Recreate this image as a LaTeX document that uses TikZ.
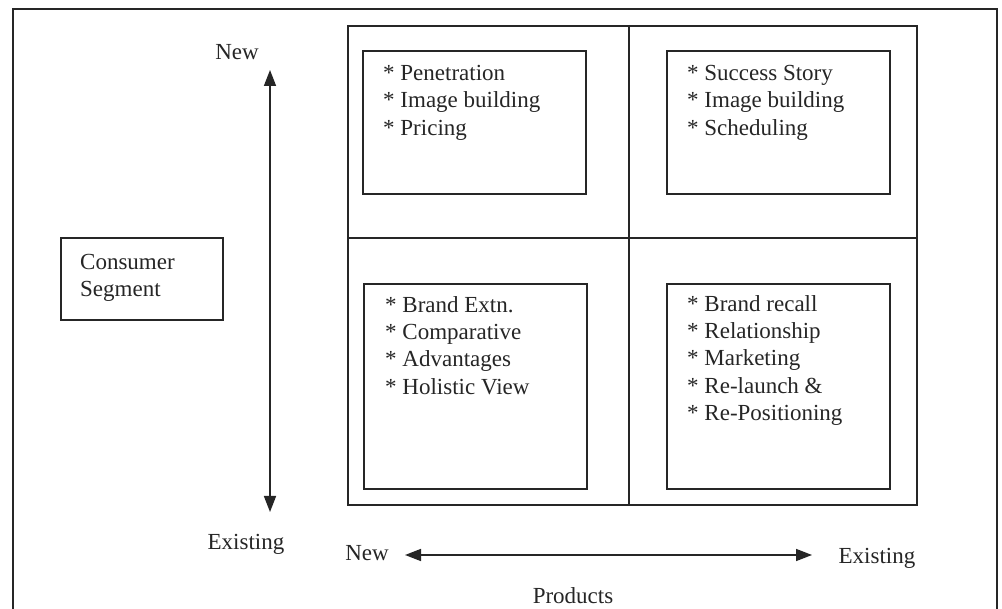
\documentclass[tikz,border=0pt]{standalone}
\usepackage{fontspec}
\setmainfont{Liberation Serif}
\usetikzlibrary{arrows.meta}
\begin{document}
\begin{tikzpicture}[x=1pt,y=-1pt,
  frame/.style={draw=black!85,line width=1.6pt},
  boxnode/.style={draw=black!85,line width=1.6pt,inner sep=0pt,anchor=north west},
  txt/.style={inner sep=0pt,anchor=north west,align=left,text=black!85,font=\fontsize{23}{27.3}\selectfont},
  lbl/.style={inner sep=0pt,text=black!85,font=\fontsize{23}{27.3}\selectfont},
  axis/.style={draw=black!85,line width=1.6pt,{Triangle[length=16pt,width=12pt]}-{Triangle[length=16pt,width=12pt]}}]
\useasboundingbox (0,0) rectangle (1002,609);
\fill[white] (0,0) rectangle (1002,609);
% outer frame (open at bottom)
\draw[frame] (13,612) -- (13,9) -- (997,9) -- (997,612);
% grid
\node[boxnode,minimum width=569pt,minimum height=479pt] (grid) at (347,25) {};
\coordinate (gtop) at (629,25);
\coordinate (gbot) at (629,504);
\coordinate (gleft) at (347,238);
\coordinate (gright) at (916,238);
\draw[frame] (gtop) -- (gbot);
\draw[frame] (gleft) -- (gright);
% inner boxes
\node[boxnode,minimum width=223pt,minimum height=143pt] (tl) at (362,50) {};
\node[boxnode,minimum width=223pt,minimum height=143pt] (tr) at (666,50) {};
\node[boxnode,minimum width=223pt,minimum height=205pt] (bl) at (363,283) {};
\node[boxnode,minimum width=223pt,minimum height=205pt] (br) at (666,283) {};
\node[boxnode,minimum width=162pt,minimum height=82pt] (cs) at (60,237) {};
% texts
\node[txt] (tltxt) at (383,65) {* Penetration\\* Image building\\* Pricing};
\node[txt] (trtxt) at (687,65) {* Success Story\\* Image building\\* Scheduling};
\node[txt] (bltxt) at (385,296) {* Brand Extn.\\* Comparative\\* Advantages\\* Holistic View};
\node[txt] (brtxt) at (687,295) {* Brand recall\\* Relationship\\* Marketing\\* Re-launch \&\\* Re-Positioning};
\node[txt] (cstxt) at (80,254) {Consumer\\Segment};
% axis labels
\node[lbl] (vnew) at (237,52) {New};
\node[lbl] (vex) at (246,544) {Existing};
\node[lbl] (hnew) at (367,553) {New};
\node[lbl] (hex) at (877,558) {Existing};
\node[lbl] (prod) at (573,596) {Products};
% axes
\coordinate (vtop) at (270,70);
\coordinate (vbottom) at (270,512);
\coordinate (hleft) at (405,555);
\coordinate (hright) at (812,555);
\draw[axis] (vtop) -- (vbottom);
\draw[axis] (hleft) -- (hright);
\end{tikzpicture}
\end{document}
